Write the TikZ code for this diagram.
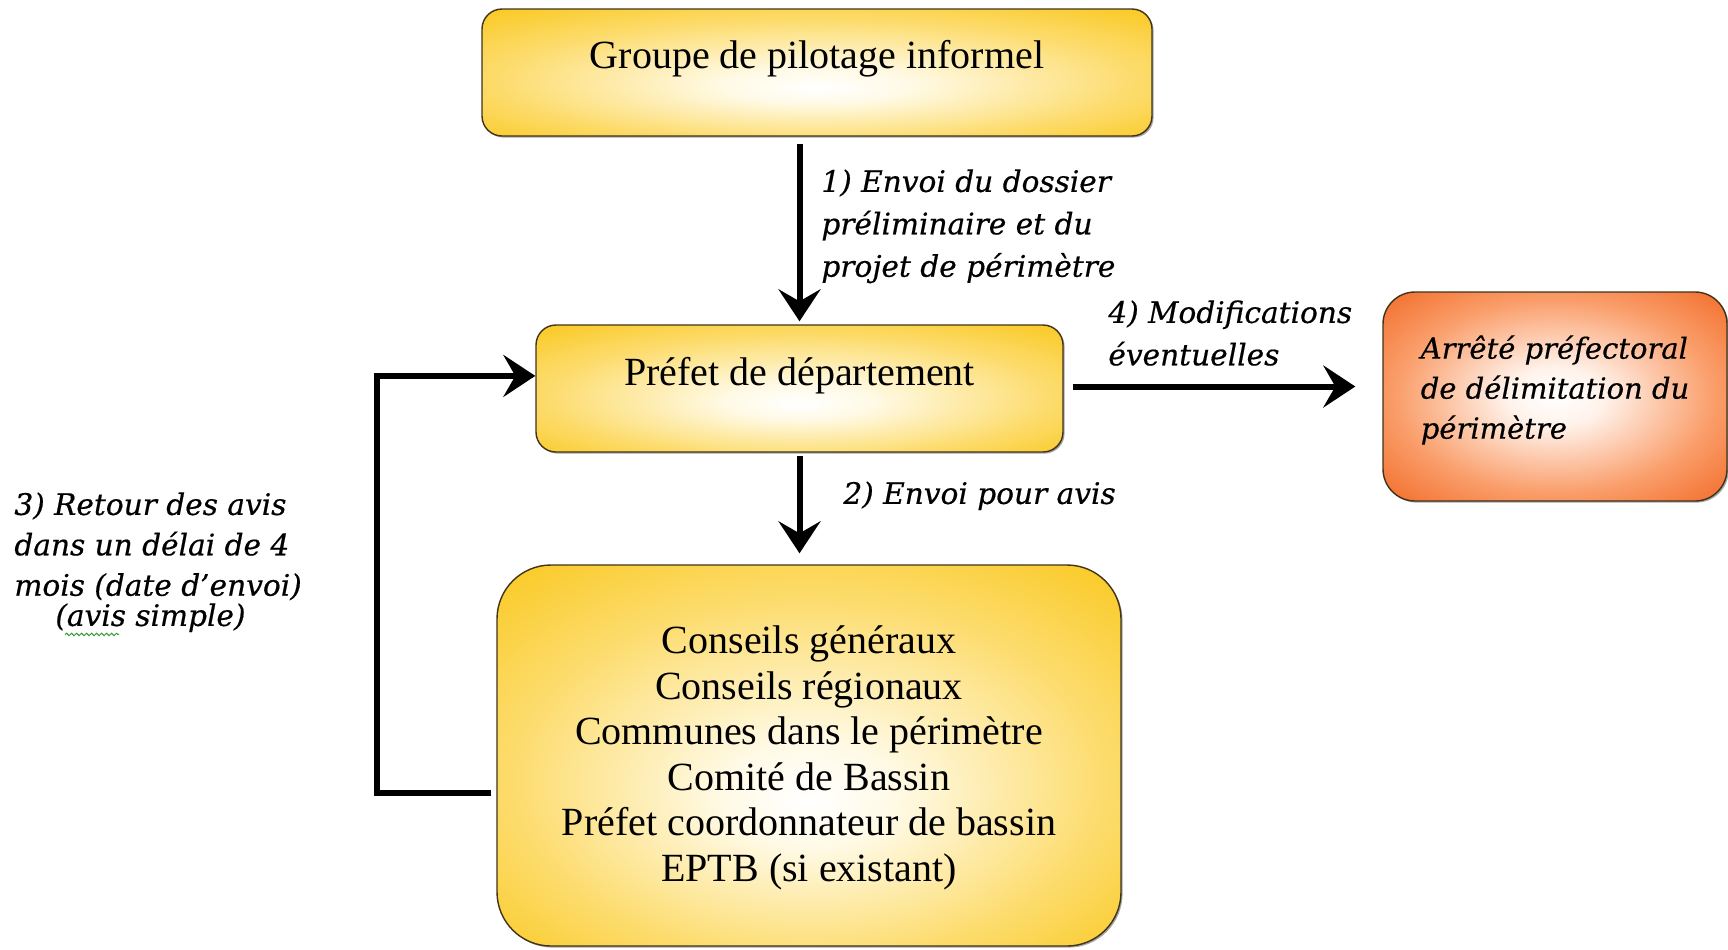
\documentclass[tikz,border=0pt]{standalone}
\usepackage{fontspec}
\setmainfont{Liberation Serif}
\newfontfamily\labelfont{DejaVu Serif}[FakeBold=0.5]
\usetikzlibrary{arrows.meta,shadows,decorations.pathmorphing}
\definecolor{boxline}{rgb}{0.25,0.2,0.1}
\definecolor{squig}{rgb}{0.2,0.6,0.2}
\pgfdeclareradialshading{goldglow}{\pgfpoint{0bp}{-6bp}}{rgb(0bp)=(1,1,1); rgb(7bp)=(1,0.98,0.9); rgb(24bp)=(0.99,0.86,0.42); rgb(36bp)=(0.98,0.79,0.14); rgb(50bp)=(0.97,0.77,0.1)}
\pgfdeclareradialshading{orangeglow}{\pgfpoint{0bp}{0bp}}{rgb(0bp)=(1,1,1); rgb(7bp)=(1,0.95,0.92); rgb(23bp)=(0.98,0.62,0.42); rgb(35bp)=(0.95,0.43,0.17); rgb(50bp)=(0.94,0.38,0.14)}
\begin{document}
\begin{tikzpicture}[x=0.5pt,y=-0.5pt,
  box/.style={draw=boxline, line width=0.7pt, shade, shading=goldglow, rounded corners=10pt,
    inner sep=0pt, align=center, font=\fontsize{20}{22.8}\selectfont,
    drop shadow={shadow xshift=0.8pt, shadow yshift=-0.8pt, opacity=0.35, fill=black}},
  lbl/.style={anchor=north west, inner sep=0pt, align=left, font=\labelfont\itshape\fontsize{14.8}{21.2}\selectfont},
  arr/.style={line width=3pt, -{Stealth[length=16pt,width=21pt,inset=6pt]}}]
\useasboundingbox (0,0) rectangle (1728,949);

\node[box, minimum width=335pt, text height=29.6pt, text depth=33.9pt] (box1) at (817,72.5) {Groupe de pilotage informel};
\node[box, minimum width=263.5pt, text height=30.4pt, text depth=33.1pt] (box2) at (799.5,388.5) {Préfet de département};
\node[box, minimum width=312pt, minimum height=190.5pt, rounded corners=27pt, text depth=2pt] (box3) at (809,755.5)
  {Conseils généraux\\Conseils régionaux\\Communes dans le périmètre\\Comité de Bassin\\Préfet coordonnateur de bassin\\EPTB (si existant)};
\node[box, shading=orangeglow, minimum width=172pt, minimum height=104.5pt, rounded corners=16pt, align=left,
  text depth=9.5pt, font=\labelfont\itshape\fontsize{14.5}{20}\selectfont] (box4) at (1555,396.5)
  {Arrêté préfectoral\\de délimitation du\\périmètre};

\node[lbl] (l1) at (821,169) {1) Envoi du dossier\\préliminaire et du\\projet de périmètre};
\node[lbl] (l4) at (1108,300) {4) Modifications\\éventuelles};
\node[lbl] (l2) at (843,481) {2) Envoi pour avis};
\node[lbl, font=\labelfont\itshape\fontsize{14.8}{20.2}\selectfont] (l3) at (14,492) {3) Retour des avis\\dans un délai de 4\\mois (date d’envoi)};
\node[lbl] (l3b) at (55,603) {(avis simple)};
\draw[squig, line width=0.5pt, decorate, decoration={snake, amplitude=0.6pt, segment length=2.5pt}]
  ([xshift=5pt,yshift=-1pt]l3b.south west) -- ([xshift=32pt,yshift=-1pt]l3b.south west);

\draw[arr, shorten <=3.5pt, shorten >=1.5pt] (box1.south -| box2.north) -- (box2.north);
\draw[arr, shorten <=1.5pt, shorten >=5.5pt] (box2.south) -- (box2.south |- box3.north);
\draw[arr, shorten <=4.5pt, shorten >=13.5pt] ([yshift=1pt]box2.east) -- ([yshift=1pt]box2.east -| box4.west);
\coordinate (bend) at (377,793);
\draw[arr, shorten <=2.5pt] (box3.west |- bend) -- (bend) |- ([yshift=6.3pt]box2.west);
\end{tikzpicture}
\end{document}
